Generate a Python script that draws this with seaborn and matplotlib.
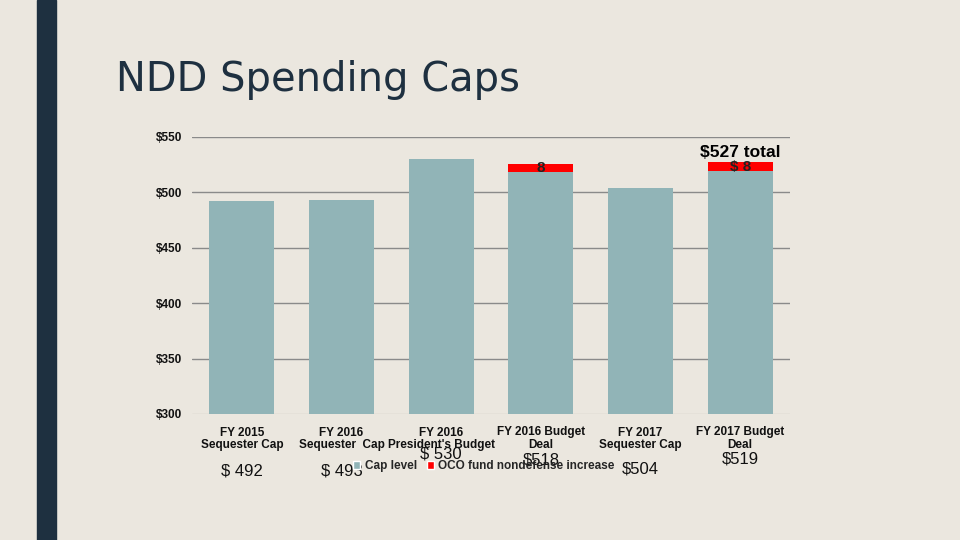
import pandas as pd
import matplotlib.pyplot as plt
import seaborn as sns
from matplotlib.patches import Patch

# Chart data
categories = ["FY 2015\nSequester Cap", "FY 2016\nSequester  Cap", "FY 2016\nPresident's Budget",
              "FY 2016 Budget\nDeal", "FY 2017\nSequester Cap", "FY 2017 Budget\nDeal"]
cap_level = [492, 493, 530, 518, 504, 519]
oco_increase = [0, 0, 0, 8, 0, 8]
value_labels = ["$ 492", "$ 493", "$ 530", "$518", "$504", "$519"]
oco_labels = ["", "", "", "8", "", "$ 8"]
yticks = [300, 350, 400, 450, 500, 550]

# Layout of the value labels under the axis (figure pixels from top)
value_label_y = [471, 471, 454, 460, 469, 459]

BG = "#ebe7df"
NAVY = "#1e3040"
GRAY_BAR = "#91b4b7"
RED = "#ff0000"

df = pd.DataFrame({"category": categories, "cap": cap_level, "oco": oco_increase})
df["total"] = df["cap"] + df["oco"]

sns.set_theme(style="white")
plt.rcParams["font.family"] = ["Liberation Sans", "DejaVu Sans"]

fig = plt.figure(figsize=(9.6, 5.4), dpi=100, facecolor=BG)
W, H = 960, 540

# Dark stripe on the left and the slide title
fig.patches.append(plt.Rectangle((37 / W, 0), 19 / W, 1, transform=fig.transFigure,
                                 color=NAVY, zorder=0))
fig.text(116 / W, 1 - 80 / H, "NDD Spending Caps", fontsize=28.8, color=NAVY,
         family="DejaVu Sans", va="center", ha="left")

ax = fig.add_axes([192 / W, 1 - 414 / H, 598 / W, 277 / H])
ax.set_facecolor(BG)

# Stacked bars: total in red behind, cap level in gray in front
sns.barplot(data=df, x="category", y="total", color=RED, width=0.655, ax=ax,
            linewidth=0, saturation=1)
sns.barplot(data=df, x="category", y="cap", color=GRAY_BAR, width=0.655, ax=ax,
            linewidth=0, saturation=1)

ax.set_ylim(300, 550)
ax.set_xlim(-0.5, len(categories) - 0.5)
ax.set_yticks(yticks)
ax.set_yticklabels([f"${v}" for v in yticks], fontsize=8.5, fontweight="bold", color="#111111")
ax.set_xticks(range(len(categories)))
ax.set_xticklabels(categories, fontsize=8.5, fontweight="bold", color="#111111", linespacing=1.05)
ax.tick_params(axis="x", length=0, pad=9)
ax.tick_params(axis="y", length=0, pad=7)
ax.set_xlabel("")
ax.set_ylabel("")
for s in ax.spines.values():
    s.set_visible(False)
for v in yticks:
    ax.axhline(v, color="#8a8a8a" if v > 300 else "#cfcac2", lw=1.0, zorder=0)
ax.set_axisbelow(True)

# Labels on the OCO segments
for i, (cap, oco, lab) in enumerate(zip(cap_level, oco_increase, oco_labels)):
    if lab:
        ax.text(i, cap + oco / 2, lab, ha="center", va="center", fontsize=11,
                color="#222222", fontweight="bold")
ax.text(5, 536, "$527 total", ha="center", va="center", fontsize=12.5,
        fontweight="bold", color="black")

# Value labels under the categories
for i, (lab, y) in enumerate(zip(value_labels, value_label_y)):
    xf = (192 + (i + 0.5) * 598 / 6) / W
    fig.text(xf, 1 - y / H, lab, ha="center", va="center", fontsize=12, color="#111111")

handles = [Patch(facecolor=GRAY_BAR, label="Cap level"),
           Patch(facecolor=RED, label="OCO fund nondefense increase")]
fig.legend(handles=handles, loc="center", bbox_to_anchor=(484 / W, 1 - 466 / H), ncol=2,
           frameon=False, handlelength=0.6, handleheight=0.6,
           columnspacing=0.8, handletextpad=0.4, prop={"weight": "bold", "size": 8.5})

fig.savefig("out.png", dpi=100, facecolor=BG)
